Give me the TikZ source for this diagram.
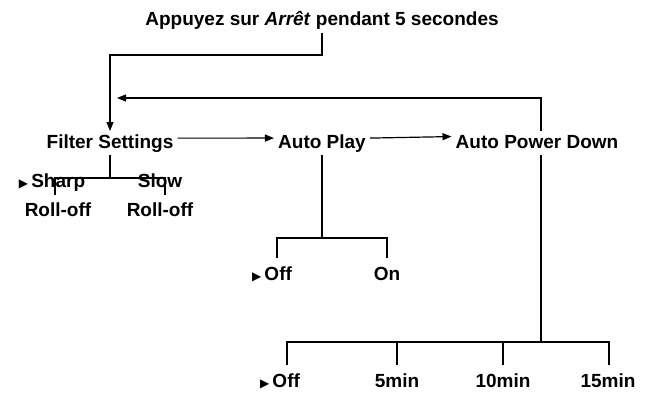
\documentclass[tikz,border=0pt]{standalone}
\usepackage{fontspec}
\setmainfont{Liberation Sans}
\newfontfamily\symf{DejaVu Sans}
\newcommand{\tri}{{\symf\fontsize{12}{12}\selectfont ▶}\,}
\usetikzlibrary{arrows.meta}
\begin{document}
\begin{tikzpicture}[x=1pt,y=-1pt,
  lbl/.style={font=\bfseries\fontsize{19}{29}\selectfont, inner sep=1pt, align=center, anchor=base},
  ln/.style={line width=1.2pt},
  arr/.style={ln,-{Triangle[length=9pt,width=7pt]}}]
\useasboundingbox (0,0) rectangle (648,404);
\node[lbl] (t) at (322,26) {Appuyez sur \textit{Arrêt} pendant 5 secondes};
\node[lbl] (fs) at (110,148) {Filter Settings};
\node[lbl] (ap) at (322,148) {Auto Play};
\node[lbl] (apd) at (537,148) {Auto Power Down};
\coordinate (c1) at (322,33);
\draw[arr] (c1) -- (322,55) -- (110,55) -- (110,131);
\draw[arr] (fs.east) ++(3,-5) -- ([xshift=-3pt,yshift=5pt]ap.west);
\draw[arr] (ap.east) ++(3,-5) -- ([xshift=-3pt,yshift=5pt]apd.west);
\draw[arr] (541,131) -- (541,98) -- (117,98);
% filter tree
\draw[ln] (110,155) -- (110,178);
\draw[ln] (55,195) -- (55,178) -- (165,178) -- (165,195);
\node[lbl] (sh) at (52,216) {\tri Sharp\\\hspace*{12pt}Roll-off};
\node[lbl] (sl) at (160,216) {Slow\\Roll-off};
% auto play tree
\draw[ln] (322,155) -- (322,238);
\draw[ln] (277,258) -- (277,238) -- (387,238) -- (387,258);
\node[lbl] (off1) at (272,280) {\tri Off};
\node[lbl] (on) at (387,280) {On};
% auto power tree
\draw[ln] (541,155) -- (541,342);
\draw[ln] (287,365) -- (287,342) -- (609,342) -- (609,365);
\draw[ln] (397,342) -- (397,365);
\draw[ln] (503,342) -- (503,365);
\node[lbl] (off2) at (280,387) {\tri Off};
\node[lbl] (m5) at (397,387) {5min};
\node[lbl] (m10) at (503,387) {10min};
\node[lbl] (m15) at (608,387) {15min};
\end{tikzpicture}
\end{document}
